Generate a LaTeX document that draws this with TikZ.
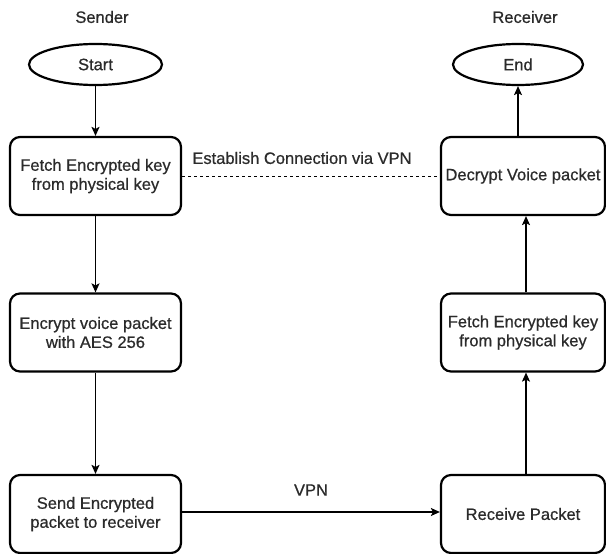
\documentclass[tikz,border=0pt]{standalone}
\usepackage{fontspec}
\setmainfont[FakeBold=0.7]{Liberation Sans}
\usetikzlibrary{arrows.meta,shapes.geometric}
\definecolor{txt}{HTML}{2B2B2B}
\begin{document}
\begin{tikzpicture}[x=1pt,y=-1pt,
  every node/.style={font=\fontsize{16.5}{19}\selectfont, text=txt},
  stepbox/.style={draw=black, line width=2.2pt, rounded corners=10pt, minimum width=171pt, minimum height=78pt, align=center, inner sep=0pt},
  termbox/.style={draw=black, line width=2.2pt, ellipse, minimum width=133pt, minimum height=41pt, inner sep=0pt},
  lbl/.style={inner sep=0pt},
  arr/.style={-{Stealth[length=9pt,width=8pt,inset=2pt]}, line width=1.2pt}
]
\useasboundingbox (0,0) rectangle (606,554);
\node[lbl] (sender) at (102,17) {Sender};
\node[lbl] (receiver) at (525,17) {Receiver};
\node[termbox] (start) at (95.5,64.5) {Start};
\node[termbox, minimum width=130pt] (end) at (518,64.5) {End};
\node[stepbox] (l1) at (95.5,176) {Fetch Encrypted key\\from physical key};
\node[stepbox] (l2) at (95.5,332.5) {Encrypt voice packet\\with AES 256};
\node[stepbox] (l3) at (95.5,514) {Send Encrypted\\packet to receiver};
\node[stepbox, minimum width=164pt] (r1) at (523,176) {Decrypt Voice packet};
\node[stepbox, minimum width=164pt] (r2) at (523,332.5) {Fetch Encrypted key\\from physical key};
\node[stepbox, minimum width=164pt] (r3) at (523,514) {Receive Packet};
\node[lbl] (est) at (302,158) {Establish Connection via VPN};
\node[lbl] (vpn) at (311,490) {VPN};
\draw[arr] (start) -- (l1);
\draw[arr] (l1) -- (l2);
\draw[arr] (l2) -- (l3);
\draw[arr] ([xshift=3pt]r3.north) -- ([xshift=3pt]r2.south);
\draw[arr] ([xshift=3pt]r2.north) -- ([xshift=3pt]r1.south);
\draw[arr] (r1.north -| end.south) -- (end.south);
\draw[line width=1pt, dash pattern=on 3pt off 3pt] (l1.east) -- (r1.west);
\draw[arr] ([yshift=2pt]l3.east) -- ([yshift=2pt]r3.west);
\end{tikzpicture}
\end{document}
